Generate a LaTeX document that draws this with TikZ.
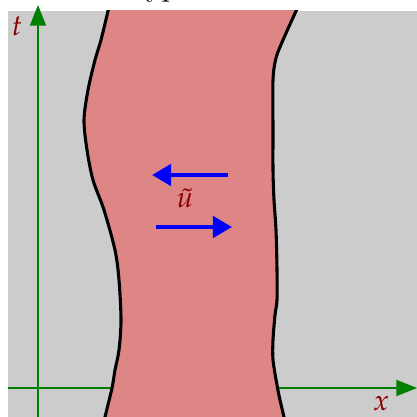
\documentclass[tikz,border=0pt]{standalone}
\usepackage{mathpazo}
\usepackage{tikz}
\usetikzlibrary{arrows.meta}
\definecolor{bggray}{HTML}{CCCCCC}
\definecolor{wavered}{HTML}{DE8686}
\definecolor{axgreen}{HTML}{008000}
\definecolor{labred}{HTML}{8C0000}
\tikzset{
  axis/.style={draw=axgreen,line width=0.7pt,-{Triangle[length=7pt,width=5.4pt]}},
  rim/.style={draw=black,line width=1.05pt},
  vel/.style={draw=blue,line width=1.5pt,-{Triangle[length=6.5pt,width=7.2pt]}},
  lab/.style={text=labred,inner sep=0pt},
}
\begin{document}
\begin{tikzpicture}[x=0.012cm,y=-0.012cm]
  \useasboundingbox (0,0) rectangle (417,417);
  % title, cut off at the top
  \node[anchor=base west,inner sep=0pt] (title) at (130,-3) {hyperbolic};
  % background
  \fill[bggray] (8,11) rectangle (417,417);
  % axes
  \draw[axis] (38,417) -- (38,5);
  \draw[axis] (8,388) -- (417,388);
  \node[lab] (tlab) at (17,26) {$t$};
  \node[lab] (xlab) at (381,404) {$x$};
  % the strip
  \begin{scope}
    \clip (8,11) rectangle (417,417);
    \fill[wavered] plot[smooth] coordinates {(110,2) (108,11) (101,40) (95,60) (88,90) (84,120) (87,150) (93,180) (104,210) (115,250) (119,280) (121,320) (119,350) (115,370) (112,388) (105,417) (103,426)}
      -- plot[smooth] coordinates {(286,426) (284,417) (280,400) (277,385) (273,360) (273,340) (275,315) (277,300) (277,270) (276,230) (274,200) (273,170) (273,130) (273,80) (276,58) (283,40) (296,11) (300,2)} -- cycle;
    \draw[rim] plot[smooth] coordinates {(110,2) (108,11) (101,40) (95,60) (88,90) (84,120) (87,150) (93,180) (104,210) (115,250) (119,280) (121,320) (119,350) (115,370) (112,388) (105,417) (103,426)};
    \draw[rim] plot[smooth] coordinates {(286,426) (284,417) (280,400) (277,385) (273,360) (273,340) (275,315) (277,300) (277,270) (276,230) (274,200) (273,170) (273,130) (273,80) (276,58) (283,40) (296,11) (300,2)};
  \end{scope}
  % velocities
  \draw[vel] (228,175) -- (152,175);
  \draw[vel] (156,227) -- (232,227);
  \node[lab] (ulab) at (185,198) {$\tilde{u}$};
\end{tikzpicture}
\end{document}
